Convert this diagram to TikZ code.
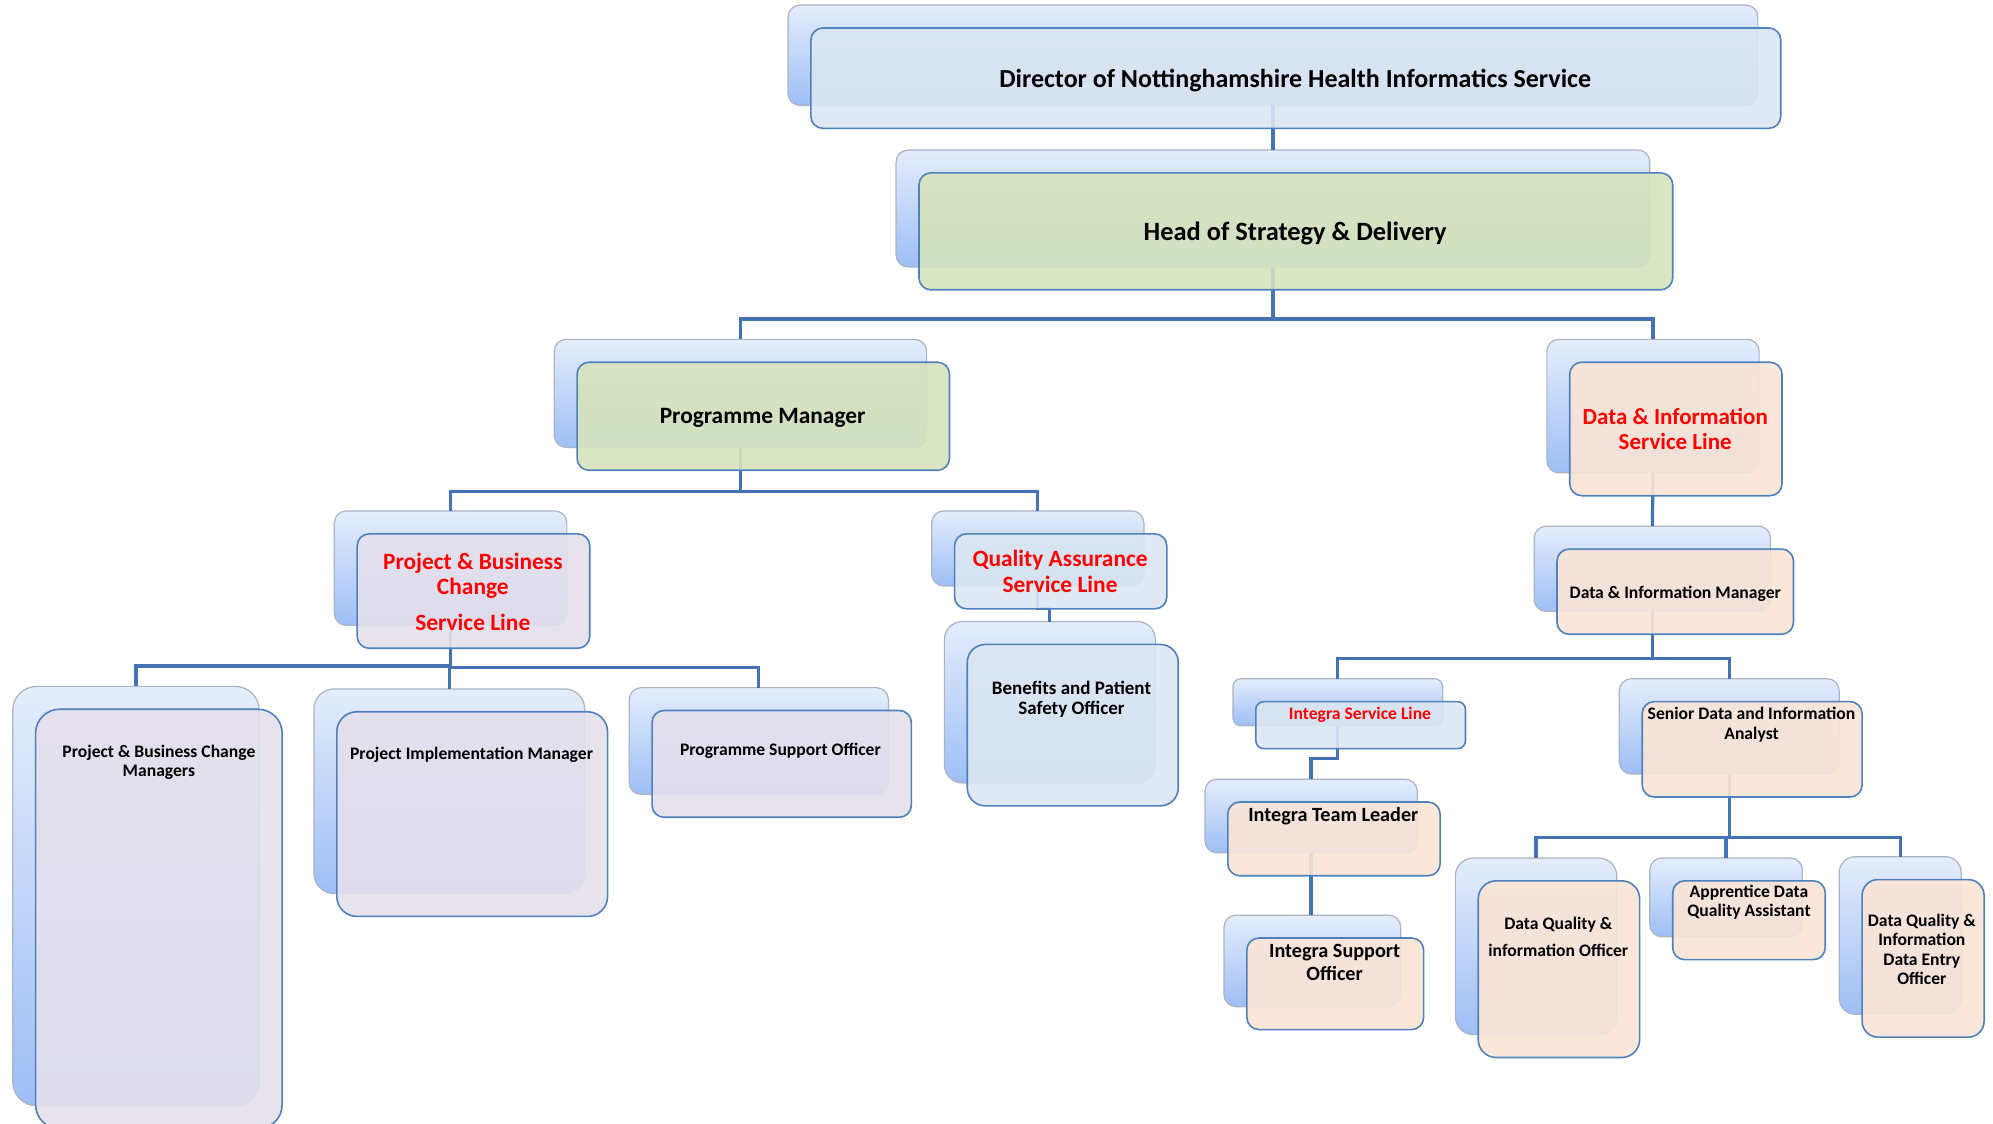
\documentclass[tikz,border=0pt]{standalone}
\usepackage{fontspec}
\setmainfont{Carlito}
\usetikzlibrary{fit,calc}
\definecolor{fblue}{RGB}{220,230,242}
\definecolor{fgreen}{RGB}{215,228,189}
\definecolor{flav}{RGB}{229,224,236}
\definecolor{fpeach}{RGB}{250,229,214}
\definecolor{bordb}{RGB}{79,129,189}
\definecolor{backtop}{RGB}{228,237,252}
\definecolor{backbot}{RGB}{158,190,245}
\definecolor{backbord}{RGB}{172,180,194}
\definecolor{connc}{RGB}{68,114,180}
\definecolor{tred}{RGB}{255,0,0}
\pgfdeclarelayer{fg}
\pgfsetlayers{main,fg}
\tikzset{
  backbox/.style={draw=backbord, line width=0.6pt, rounded corners=6pt, top color=backtop, bottom color=backbot, inner sep=0pt, outer sep=0pt},
  frontbox/.style={draw=bordb, line width=0.8pt, rounded corners=6pt, fill=#1, fill opacity=0.9, inner sep=0pt, outer sep=0pt},
  conn/.style={draw=connc, line width=1.6pt},
  lbl/.style={font=\bfseries, align=center, inner sep=0pt, text=black},
  redlbl/.style={lbl, text=tred},
}
\newcommand{\fsz}[2]{\fontsize{#1}{#2}\selectfont}
% #1 options, #2 name, #3 x1, #4 y1, #5 x2, #6 y2 (front box), #7 fill
\newcommand{\orgunit}[7][]{%
  \node[backbox,#1,fit={({#3-18},{#4-18}) ({#5-18},{#6-18})}] (#2B) {};
  \begin{pgfonlayer}{fg}
    \node[frontbox=#7,#1,fit={(#3,#4) (#5,#6)}] (#2) {};
  \end{pgfonlayer}
}
\begin{document}
\begin{tikzpicture}[x=0.6355pt, y=-0.6355pt]
\useasboundingbox (0,0) rectangle (1568,884);
\fill[white] (0,0) rectangle (1568,884);

% ---------- boxes ----------
\orgunit{dir}{638}{22}{1401}{101}{fblue}
\orgunit{head}{723}{136}{1316}{228}{fgreen}
\orgunit{pm}{454}{285}{747}{370}{fgreen}
\orgunit{disl}{1235}{285}{1402}{390}{fpeach}
\orgunit{pbcsl}{281}{420}{464}{510}{flav}
\orgunit{qa}{751}{420}{918}{479}{fblue}
\orgunit[rounded corners=9pt]{ben}{761}{507}{927}{634}{fblue}
\orgunit[rounded corners=12pt]{pbcm}{28}{558}{222}{888}{flav}
\orgunit[rounded corners=10pt]{pim}{265}{560}{478}{721}{flav}
\orgunit{pso}{513}{559}{717}{643}{flav}
\orgunit{dim}{1225}{432}{1411}{499}{fpeach}
\orgunit[rounded corners=4pt]{intsl}{988}{552}{1153}{589}{fblue}
\orgunit{sen}{1292}{552}{1465}{627}{fpeach}
\orgunit{itl}{966}{631}{1133}{689}{fpeach}
\orgunit{iso}{981}{738}{1120}{810}{fpeach}
\orgunit[rounded corners=9pt]{dqio}{1163}{693}{1290}{832}{fpeach}
\orgunit{adqa}{1316}{693}{1436}{755}{fpeach}
\orgunit[rounded corners=8pt]{dqide}{1465}{692}{1561}{816}{fpeach}

% ---------- connectors ----------
\draw[conn] (dirB.south) -- (headB.north);
\draw[conn] (headB.south) -- ++(0,41) -| (pmB.north);
\draw[conn] (headB.south) -- ++(0,41) -| (dislB.north);
\draw[conn] (pmB.south) -- ++(0,35) -| (pbcslB.north);
\draw[conn] (pmB.south) -- ++(0,35) -| (qaB.north);
\draw[conn] (pbcslB.south) -- ++(0,32) -| (pbcmB.north);
\draw[conn] (pbcslB.south) -- ++(0,32) -| (pimB.north);
\draw[conn] (pbcslB.south) -- ++(0,33) -| (psoB.north);
\draw[conn] (qaB.south) -- ++(0,18) -| (benB.north);
\draw[conn] (dislB.south) -- (dimB.north);
\draw[conn] (dimB.south) -- ++(0,37) -| (intslB.north);
\draw[conn] (dimB.south) -- ++(0,37) -| (senB.north);
\draw[conn] (intslB.south) -- ++(0,26) -| (itlB.north);
\draw[conn] (itlB.south) -- (itlB.south |- isoB.north);
\draw[conn] (senB.south) -- ++(0,50) -| (dqioB.north);
\draw[conn] (senB.south) -- ++(0,50) -| (adqaB.north);
\draw[conn] (senB.south) -- ++(0,50) -| (dqideB.north);

% ---------- texts ----------
\begin{pgfonlayer}{fg}
\node[lbl, font=\bfseries\fsz{13}{15}] (dirT) at (1019,63) {Director of Nottinghamshire Health Informatics Service};
\node[lbl, font=\bfseries\fsz{13.2}{15}] (headT) at (1019,184) {Head of Strategy \& Delivery};
\node[lbl, font=\bfseries\fsz{11.7}{13}] (pmT) at (600,329) {Programme Manager};
\node[redlbl, font=\bfseries\fsz{11.5}{12.7}] (dislT) at (1318,337.5) {Data \& Information\\Service Line};
\node[redlbl, font=\bfseries\fsz{11.7}{12.7}] (pbcslT) at (372,465.5) {Project \& Business\\Change\\[5pt]Service Line};
\node[redlbl, font=\bfseries\fsz{11.7}{12.7}] (qaT) at (834,449.5) {Quality Assurance\\Service Line};
\node[lbl, font=\bfseries\fsz{9.5}{10.2}] (benT) at (843,550) {Benefits and Patient\\Safety Officer};
\node[lbl, font=\bfseries\fsz{8.8}{9.6}] (pbcmT) at (125,600) {Project \& Business Change\\Managers};
\node[lbl, font=\bfseries\fsz{8.8}{10}] (pimT) at (371,594) {Project Implementation Manager};
\node[lbl, font=\bfseries\fsz{8.8}{10}] (psoT) at (614,591) {Programme Support Officer};
\node[lbl, font=\bfseries\fsz{8.8}{10}] (dimT) at (1318,467) {Data \& Information Manager};
\node[redlbl, font=\bfseries\fsz{8.8}{10}] (intslT) at (1070,562) {Integra Service Line};
\node[lbl, font=\bfseries\fsz{8.8}{10.2}] (senT) at (1378,570) {Senior Data and Information\\Analyst};
\node[lbl, font=\bfseries\fsz{10.1}{11.4}] (itlT) at (1049,642) {Integra Team Leader};
\node[lbl, font=\bfseries\fsz{10.1}{11.4}] (isoT) at (1050,757.5) {Integra Support\\Officer};
\node[lbl, font=\bfseries\fsz{8.8}{13.3}] (dqioT) at (1226,737) {Data Quality \&\\information Officer};
\node[lbl, font=\bfseries\fsz{8.8}{9.6}] (adqaT) at (1376,710) {Apprentice Data\\Quality Assistant};
\node[lbl, font=\bfseries\fsz{8.8}{9.7}] (dqideT) at (1512,747) {Data Quality \&\\Information\\Data Entry\\Officer};
\end{pgfonlayer}
\end{tikzpicture}
\end{document}
